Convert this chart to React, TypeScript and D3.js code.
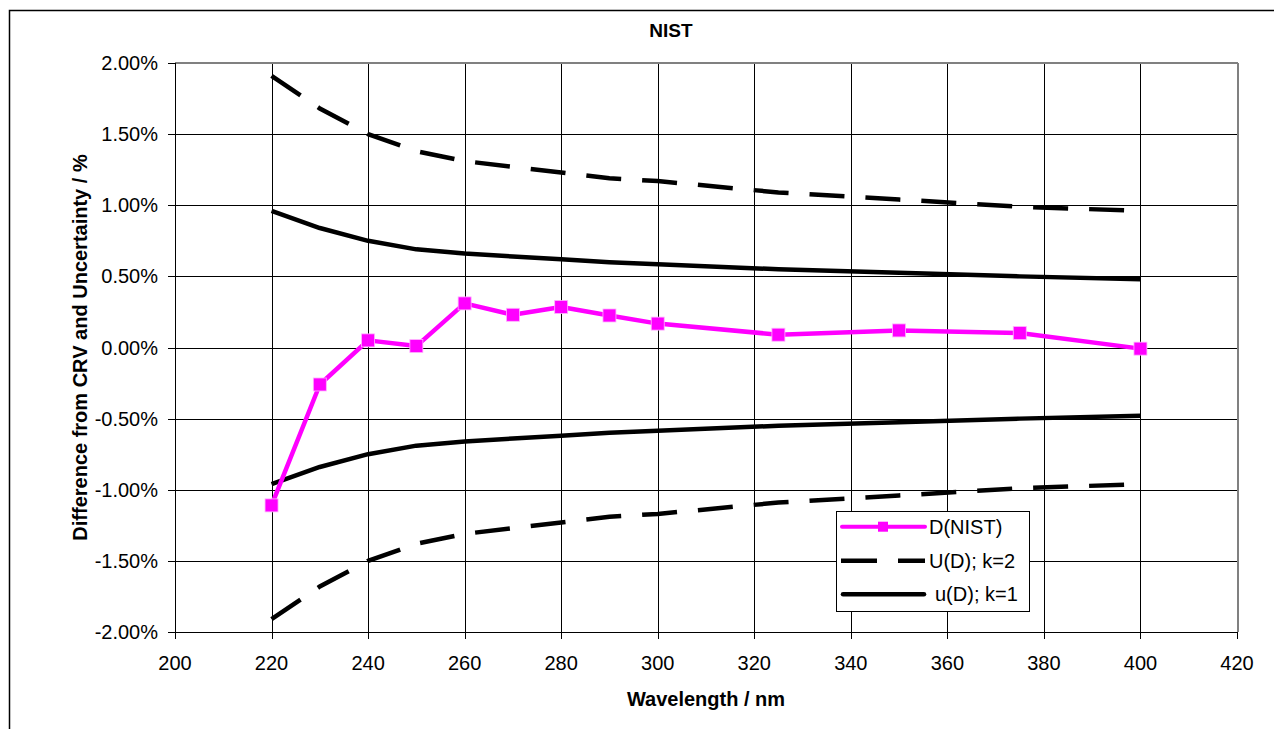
import React from "react";
import * as d3 from "d3";

const wavelengths = [220, 230, 240, 250, 260, 270, 280, 290, 300, 325, 350, 375, 400];
const dNist = [-1.11, -0.26, 0.05, 0.01, 0.31, 0.23, 0.285, 0.225, 0.168, 0.09, 0.12, 0.102, -0.008];
const uUpper = [0.96, 0.84, 0.75, 0.69, 0.66, 0.64, 0.62, 0.6, 0.585, 0.55, 0.525, 0.5, 0.48];
const uLower = [-0.96, -0.84, -0.75, -0.69, -0.66, -0.64, -0.62, -0.6, -0.585, -0.55, -0.525, -0.5, -0.48];
const bigUUpper = [1.91, 1.68, 1.5, 1.38, 1.31, 1.27, 1.23, 1.19, 1.17, 1.09, 1.04, 0.99, 0.96];
const bigULower = [-1.91, -1.68, -1.5, -1.38, -1.31, -1.27, -1.23, -1.19, -1.17, -1.09, -1.04, -0.99, -0.96];
const xTicks = [200, 220, 240, 260, 280, 300, 320, 340, 360, 380, 400, 420];
const yTicks = [-2, -1.5, -1, -0.5, 0, 0.5, 1, 1.5, 2];
const legendLabels = ["D(NIST)", "U(D); k=2", "u(D); k=1"];

const FONT = "'Liberation Sans', Arial, sans-serif";
const MAGENTA = "#ff00ff";

export default function App() {
  const W = 1274, H = 729;
  const left = 175, right = 1237, top = 63, bottom = 632;
  const x = d3.scaleLinear().domain([200, 420]).range([left, right]);
  const y = d3.scaleLinear().domain([-2, 2]).range([bottom, top]);
  const crisp = (v: number) => Math.round(v) + 0.5;

  const line = d3
    .line<[number, number]>()
    .x((d) => x(d[0]))
    .y((d) => y(d[1]));
  const pts = (vals: number[]) => wavelengths.map((w, i) => [w, vals[i]] as [number, number]);

  const fmt = (v: number) => v.toFixed(2) + "%";

  const lgX = 836, lgY = 511, lgW = 193, lgH = 100;
  const rows = [526.7, 560.7, 594.3];

  return (
    <svg
      width={W}
      height={H}
      style={{ position: "absolute", left: 0, top: 0, background: "#fff" }}
      fontFamily={FONT}
    >
      <rect x={0} y={0} width={W} height={H} fill="#fff" />
      {/* outer chart border */}
      <rect x={9.5} y={10.5} width={W + 20} height={H + 20} fill="none" stroke="#000" strokeWidth={1.5} />

      {/* title */}
      <text x={671} y={37} textAnchor="middle" fontSize={19} fontWeight="bold">
        NIST
      </text>

      {/* gridlines */}
      {yTicks.map((t) => (
        <line key={"gy" + t} x1={left} x2={right} y1={crisp(y(t))} y2={crisp(y(t))} stroke="#000" strokeWidth={1} />
      ))}
      {xTicks.map((t) => (
        <line key={"gx" + t} x1={crisp(x(t))} x2={crisp(x(t))} y1={top} y2={bottom} stroke="#000" strokeWidth={1} />
      ))}

      {/* plot border (top/right grey) */}
      <line x1={left} x2={right + 1} y1={top} y2={top} stroke="#808080" strokeWidth={2} />
      <line x1={right + 1} x2={right + 1} y1={top} y2={bottom} stroke="#808080" strokeWidth={2} />

      {/* axes */}
      <line x1={crisp(left)} x2={crisp(left)} y1={top} y2={bottom + 1} stroke="#000" strokeWidth={1} />
      <line x1={left} x2={right + 1} y1={crisp(bottom)} y2={crisp(bottom)} stroke="#000" strokeWidth={1} />

      {/* y ticks and labels */}
      {yTicks.map((t) => (
        <g key={"yt" + t}>
          <line x1={168} x2={left} y1={crisp(y(t))} y2={crisp(y(t))} stroke="#000" strokeWidth={1} />
          <text x={158} y={y(t)} dy="0.35em" textAnchor="end" fontSize={20}>
            {fmt(t)}
          </text>
        </g>
      ))}
      {/* x ticks and labels */}
      {xTicks.map((t) => (
        <g key={"xt" + t}>
          <line x1={crisp(x(t))} x2={crisp(x(t))} y1={bottom} y2={639} stroke="#000" strokeWidth={1} />
          <text x={x(t)} y={670} textAnchor="middle" fontSize={20}>
            {t}
          </text>
        </g>
      ))}

      {/* axis titles */}
      <text x={706} y={706} textAnchor="middle" fontSize={20} fontWeight="bold">
        Wavelength / nm
      </text>
      <text
        transform={`translate(87, ${(top + bottom) / 2}) rotate(-90)`}
        textAnchor="middle"
        fontSize={20}
        fontWeight="bold"
      >
        Difference from CRV and Uncertainty / %
      </text>

      {/* series */}
      <path d={line(pts(bigUUpper)) || ""} fill="none" stroke="#000" strokeWidth={4.5} strokeDasharray="35 21" />
      <path d={line(pts(bigULower)) || ""} fill="none" stroke="#000" strokeWidth={4.5} strokeDasharray="35 21" />
      <path d={line(pts(uUpper)) || ""} fill="none" stroke="#000" strokeWidth={4.5} strokeLinejoin="round" />
      <path d={line(pts(uLower)) || ""} fill="none" stroke="#000" strokeWidth={4.5} strokeLinejoin="round" />
      <path d={line(pts(dNist)) || ""} fill="none" stroke={MAGENTA} strokeWidth={4.5} strokeLinejoin="round" />
      {wavelengths.map((w, i) => (
        <rect
          key={"m" + w}
          x={x(w) - 6.5}
          y={y(dNist[i]) - 6.5}
          width={13}
          height={13}
          fill={MAGENTA}
          stroke="#ffb3ff"
          strokeWidth={0.8}
        />
      ))}

      {/* legend */}
      <rect x={lgX + 0.5} y={lgY + 0.5} width={lgW} height={lgH} fill="#fff" stroke="#000" strokeWidth={1} />
      <line x1={842} x2={925} y1={rows[0]} y2={rows[0]} stroke={MAGENTA} strokeWidth={4} strokeLinecap="round" />
      <rect x={878} y={rows[0] - 5} width={10} height={10} fill={MAGENTA} />
      <line x1={841} x2={925} y1={rows[1]} y2={rows[1]} stroke="#000" strokeWidth={4.5} strokeDasharray="36 21" />
      <line x1={843} x2={924} y1={rows[2]} y2={rows[2]} stroke="#000" strokeWidth={4.5} strokeLinecap="round" />
      <text x={929} y={rows[0]} dy="0.35em" fontSize={20}>{legendLabels[0]}</text>
      <text x={929} y={rows[1]} dy="0.35em" fontSize={20}>{legendLabels[1]}</text>
      <text x={935} y={rows[2]} dy="0.35em" fontSize={20}>{legendLabels[2]}</text>
    </svg>
  );
}
